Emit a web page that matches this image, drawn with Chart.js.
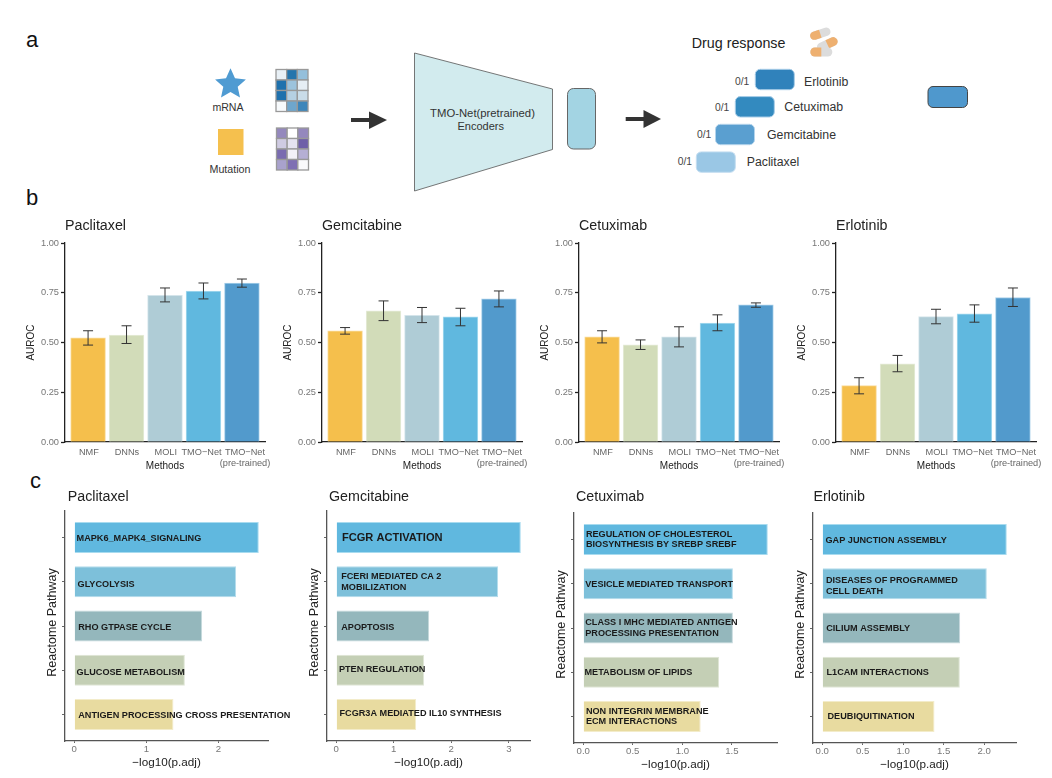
<!DOCTYPE html>
<html>
<head>
<meta charset="utf-8">
<title>TMO-Net drug response</title>
<script src="https://cdn.jsdelivr.net/npm/chart.js@4"></script>
<style>
    html, body { margin: 0; padding: 0; background: #fff; }
    body { position: relative; width: 1052px; height: 778px; overflow: hidden; font-family: "Liberation Sans", Arial, sans-serif; }
    canvas { position: absolute; }
    svg { position: absolute; left: 0; top: 0; }
</style>
</head>
<body>
<svg width="1052" height="778" font-family="Liberation Sans, Arial, sans-serif">
    <g font-size="22" fill="#111">
        <text x="26" y="47">a</text>
        <text x="26" y="205">b</text>
        <text x="30" y="488">c</text>
    </g>

    <polygon points="230.5,68.3 235,78.35 245.9,79.5 237.7,86.85 240,97.6 230.5,92.1 221,97.6 223.3,86.85 215.1,79.5 226,78.35" fill="#4f9bd2"/>
    <text x="228" y="110.5" font-size="10.6" text-anchor="middle" fill="#333">mRNA</text>
    <rect x="218" y="129" width="25.5" height="26" fill="#f5c04e"/>
    <text x="230" y="172.8" font-size="10.7" text-anchor="middle" fill="#333">Mutation</text>
    <g id="heat1"></g>
    <g id="heat2"></g>

    <g fill="#333">
        <rect x="351" y="118" width="19" height="4"/>
        <polygon points="369,111.5 387,120 369,129"/>
        <rect x="625.7" y="117" width="19" height="4"/>
        <polygon points="643.5,110 661,119 643.5,128"/>
    </g>

    <polygon points="414.5,53 552.5,89 552.5,149.5 414.5,191" fill="#d2ebee" stroke="#555" stroke-width="0.8"/>
    <text x="482.5" y="116.7" font-size="11.3" text-anchor="middle" fill="#333">TMO-Net(pretrained)</text>
    <text x="480.7" y="130.2" font-size="11" text-anchor="middle" fill="#333">Encoders</text>
    <rect x="567.5" y="88.5" width="28" height="60.5" rx="6" fill="#a3d4e3" stroke="#666" stroke-width="1"/>

    <text x="691.7" y="47.5" font-size="14.3" fill="#222">Drug response</text>
    <g>
        <g transform="translate(820.3 33.7) rotate(-18)">
            <rect x="-10.5" y="-4.2" width="21" height="8.4" rx="4.2" fill="#dcdcdc"/>
            <path d="M0 -4.2H-6.3a4.2 4.2 0 0 0 0 8.4H0z" fill="#eeb070"/>
        </g>
        <g transform="translate(827.3 44.3) rotate(-25)">
            <rect x="-11" y="-4.4" width="22" height="8.8" rx="4.4" fill="#dcdcdc"/>
            <path d="M0 -4.4H6.6a4.4 4.4 0 0 1 0 8.8H0z" fill="#eeb070"/>
        </g>
        <g transform="translate(821.3 52)">
            <rect x="-11" y="-4.5" width="22" height="9" rx="4.5" fill="#dcdcdc"/>
            <path d="M0 -4.5H-6.5a4.5 4.5 0 0 0 0 9H0z" fill="#eeb070"/>
        </g>
    </g>

    <g stroke-width="1">
        <rect x="755.3" y="69.3" width="39" height="20.4" rx="5" fill="#3082bb" stroke="#a8cde8"/>
        <rect x="735.3" y="96.6" width="39" height="20.4" rx="5" fill="#338abf" stroke="#a8cde8"/>
        <rect x="715.5" y="124.3" width="39" height="20.4" rx="5" fill="#5a9fd0" stroke="#b4d4ec"/>
        <rect x="696.3" y="151.9" width="39" height="20.4" rx="5" fill="#9ac7e5" stroke="#c5def1"/>
        <rect x="928" y="86.5" width="39.5" height="21" rx="5" fill="#4f98cd" stroke="#444"/>
    </g>
    <g font-size="10.3" fill="#444" text-anchor="end">
        <text x="749.3" y="85">0/1</text>
        <text x="729.3" y="110.7">0/1</text>
        <text x="711.3" y="137.7">0/1</text>
        <text x="692" y="165.4">0/1</text>
    </g>
    <g font-size="12.3" fill="#333">
        <text x="804" y="85.6">Erlotinib</text>
        <text x="784.3" y="111.3">Cetuximab</text>
        <text x="767" y="139.3">Gemcitabine</text>
        <text x="746.7" y="166.3">Paclitaxel</text>
    </g>
</svg>

<script>
const methods = ['NMF', 'DNNs', 'MOLI', 'TMO\u2212Net', ['TMO\u2212Net', '(pre-trained)']];
// the two TMO-Net labels sit a bit apart from their bars in the figure
const methodLabelAt = [1.02, 2.01, 3.02, 3.95, 5.08];

const paclitaxelAuroc = [0.523, 0.537, 0.737, 0.759, 0.799];
const paclitaxelLow = [0.487, 0.495, 0.704, 0.719, 0.778];
const paclitaxelHigh = [0.559, 0.584, 0.774, 0.799, 0.819];

const gemcitabineAuroc = [0.559, 0.659, 0.637, 0.629, 0.719];
const gemcitabineLow = [0.542, 0.610, 0.600, 0.584, 0.679];
const gemcitabineHigh = [0.575, 0.709, 0.676, 0.672, 0.759];

const cetuximabAuroc = [0.528, 0.488, 0.528, 0.597, 0.689];
const cetuximabLow = [0.498, 0.465, 0.478, 0.559, 0.677];
const cetuximabHigh = [0.559, 0.513, 0.579, 0.639, 0.699];

const erlotinibAuroc = [0.283, 0.393, 0.630, 0.644, 0.726];
const erlotinibLow = [0.242, 0.353, 0.594, 0.602, 0.681];
const erlotinibHigh = [0.323, 0.435, 0.667, 0.689, 0.774];

const aurocTicks = [0, 0.25, 0.5, 0.75, 1];

const paclitaxelPathways = ['MAPK6_MAPK4_SIGNALING', 'GLYCOLYSIS', 'RHO GTPASE CYCLE', 'GLUCOSE METABOLISM', 'ANTIGEN PROCESSING CROSS PRESENTATION'];
const paclitaxelScores = [2.559, 2.245, 1.774, 1.534, 1.376];
const paclitaxelTicks = [0, 1, 2];

const gemcitabinePathways = ['FCGR ACTIVATION', ['FCERI MEDIATED CA 2', 'MOBILIZATION'], 'APOPTOSIS', 'PTEN REGULATION', 'FCGR3A MEDIATED IL10 SYNTHESIS'];
const gemcitabineScores = [3.208, 2.814, 1.616, 1.529, 1.390];
const gemcitabineTicks = [0, 1, 2, 3];

const cetuximabPathways = [['REGULATION OF CHOLESTEROL', 'BIOSYNTHESIS BY SREBP SREBF'], 'VESICLE MEDIATED TRANSPORT', ['CLASS I MHC MEDIATED ANTIGEN', 'PROCESSING PRESENTATION'], 'METABOLISM OF LIPIDS', ['NON INTEGRIN MEMBRANE', 'ECM INTERACTIONS']];
const cetuximabScores = [1.862, 1.510, 1.510, 1.372, 1.185];
const cetuximabTicks = [0, 0.5, 1, 1.5];

const erlotinibPathways = ['GAP JUNCTION ASSEMBLY', ['DISEASES OF PROGRAMMED', 'CELL DEATH'], 'CILIUM ASSEMBLY', 'L1CAM INTERACTIONS', 'DEUBIQUITINATION'];
const erlotinibScores = [2.280, 2.033, 1.704, 1.700, 1.387];
const erlotinibTicks = [0, 0.5, 1, 1.5, 2];

// small nudges of the labels inside the pathway bars, in px
const paclitaxelNudgeX = [2.3, 3.3, 4, 2.3, 4];
const paclitaxelNudgeY = [1.3, 2.3, 1.3, 2.3, 1.3];
const gemcitabineNudgeX = [5.7, 5, 5, 2.7, 3.3];
const gemcitabineNudgeY = [0.7, 0, 1.7, -0.7, -1];
const cetuximabNudgeX = [2.7, 2, 2, 1.3, 2.7];
const cetuximabNudgeY = [0, 0.3, 0, 0, 0];
const erlotinibNudgeX = [3.3, 3.7, 4, 4.3, 5.3];
const erlotinibNudgeY = [1, 2.3, 0, 0, 0];

const methodColors = ['#f5bf4c', '#d2dcb9', '#afccd6', '#60b8df', '#529acc'];
const methodEdges = ['#f9dc9c', '#e6ecd9', '#d4e4ea', '#a8dbef', '#a8d0ea'];
const pathwayColors = ['#60b8df', '#7dc0da', '#94b7bc', '#c4cfb5', '#e8dba0'];
const pathwayEdges = ['#a8dbef', '#b4dcec', '#c4d8dc', '#dfe6d6', '#f3ecca'];

const FONT = 'Liberation Sans';
const LEFT_PAD = { bars: 45, paths: 20 };
const RIGHT_PAD = { bars: 12, paths: 26 };
const BOTTOM = 35, TOP = 35;

function heatmap(id, x, y, w, h, colors) {
    const g = document.getElementById(id);
    const cw = w / 3, ch = h / 4;
    colors.forEach((c, i) => {
        const r = document.createElementNS('http://www.w3.org/2000/svg', 'rect');
        r.setAttribute('x', x + (i % 3) * cw);
        r.setAttribute('y', y + Math.floor(i / 3) * ch);
        r.setAttribute('width', cw);
        r.setAttribute('height', ch);
        r.setAttribute('fill', c);
        r.setAttribute('stroke', '#999');
        r.setAttribute('stroke-width', '1.3');
        g.appendChild(r);
    });
}
heatmap('heat1', 276, 69.5, 32, 42, ['#e8f0f6', '#2475ad', '#94bfdb', '#1f71ad', '#9cc3dd', '#e6eef5', '#1f71ad', '#b5d0e3', '#c9dce9', '#f7fafc', '#6ea6cc', '#3d86ba']);
heatmap('heat2', 276.5, 128, 32, 42, ['#9488bd', '#ffffff', '#9488bd', '#cfcbe2', '#e5e3f0', '#6e5fa8', '#7a6cb0', '#f3f2f8', '#b5afd4', '#a9a2cd', '#7f70b3', '#fafafc']);

// error bars drawn on the chart's own scales
const errorBars = {
    id: 'errorBars',
    afterDatasetsDraw(chart, args, opts) {
        const ctx = chart.ctx;
        const y = chart.scales.y;
        const bars = chart.getDatasetMeta(0).data;
        ctx.save();
        ctx.strokeStyle = '#333';
        ctx.lineWidth = 1;
        bars.forEach((bar, i) => {
            const top = y.getPixelForValue(opts.high[i]);
            const bottom = y.getPixelForValue(opts.low[i]);
            ctx.beginPath();
            ctx.moveTo(bar.x, top);
            ctx.lineTo(bar.x, bottom);
            ctx.moveTo(bar.x - 5, top);
            ctx.lineTo(bar.x + 5, top);
            ctx.moveTo(bar.x - 5, bottom);
            ctx.lineTo(bar.x + 5, bottom);
            ctx.stroke();
        });
        ctx.restore();
    }
};

// pathway names written over the bars
const barNames = {
    id: 'barNames',
    afterDatasetsDraw(chart, args, opts) {
        const ctx = chart.ctx;
        const zero = chart.scales.x.getPixelForValue(0);
        const bars = chart.getDatasetMeta(0).data;
        ctx.save();
        ctx.fillStyle = '#1a1a1a';
        ctx.textBaseline = 'middle';
        ctx.textAlign = 'left';
        bars.forEach((bar, i) => {
            const lines = [].concat(opts.names[i]);
            const size = opts.names[i] === 'FCGR ACTIVATION' ? 11.1 : 9.15;
            ctx.font = 'bold ' + size + 'px "' + FONT + '"';
            lines.forEach((line, k) => {
                const dy = (k - (lines.length - 1) / 2) * 10.7;
                ctx.fillText(line, zero + opts.dx[i], bar.y + opts.dy[i] + dy);
            });
        });
        ctx.restore();
    }
};

const titleShift = {
    id: 'titleShift',
    afterLayout(chart, args, opts) {
        chart.titleBlock.left += opts.shift;
        chart.titleBlock.right += opts.shift;
    }
};

function addCanvas(left, top, width, height) {
    const c = document.createElement('canvas');
    c.width = width;
    c.height = height;
    c.style.left = left + 'px';
    c.style.top = top + 'px';
    c.style.width = width + 'px';
    c.style.height = height + 'px';
    document.body.appendChild(c);
    return c;
}

function titleOptions(text, bottomGap) {
    const size = 14.25;
    return {
        display: true,
        text: text,
        align: 'start',
        fullSize: false,
        color: '#222',
        font: { family: FONT, size: size, weight: 'normal', lineHeight: 1.2 },
        padding: { top: TOP - size * 1.2 - bottomGap, bottom: bottomGap }
    };
}

function methodChart(title, values, low, high, left, top, right, bottom) {
    const canvas = addCanvas(left - LEFT_PAD.bars, top - TOP, right - left + LEFT_PAD.bars + RIGHT_PAD.bars, bottom - top + TOP + BOTTOM);
    new Chart(canvas, {
        type: 'bar',
        data: {
            datasets: [{
                data: values.map((v, i) => ({ x: i + 1, y: v })),
                backgroundColor: methodColors,
                borderColor: methodEdges,
                borderWidth: 1,
                barThickness: 34.8
            }]
        },
        plugins: [errorBars],
        options: {
            responsive: false,
            animation: false,
            layout: { padding: { left: 0, top: 0, right: RIGHT_PAD.bars, bottom: 0 } },
            plugins: {
                legend: { display: false },
                tooltip: { enabled: false },
                title: titleOptions(title, 8.45),
                errorBars: { low: low, high: high }
            },
            scales: {
                x: {
                    type: 'linear',
                    offset: false,
                    min: 0.4,
                    max: 5.6,
                    afterBuildTicks: s => { s.ticks = methodLabelAt.map(v => ({ value: v })); },
                    afterFit: s => { s.height = BOTTOM; },
                    grid: { display: false, drawTicks: false, offset: false },
                    border: { display: true, color: '#222', width: 1.3 },
                    ticks: {
                        autoSkip: false, maxRotation: 0, padding: 5,
                        color: '#666',
                        font: { family: FONT, size: 9.2, lineHeight: 1.16 },
                        callback: (v, i) => methods[i]
                    },
                    title: {
                        display: true, text: 'Methods', color: '#222',
                        font: { family: FONT, size: 10, lineHeight: 1.2 },
                        padding: { top: 0, bottom: 5 }
                    }
                },
                y: {
                    min: 0,
                    max: 1,
                    afterBuildTicks: s => { s.ticks = aurocTicks.map(v => ({ value: v })); },
                    afterFit: s => { s.width = LEFT_PAD.bars; },
                    grid: { display: true, drawOnChartArea: false, drawTicks: true, tickLength: 4, tickColor: '#222', tickWidth: 1.3 },
                    border: { display: true, color: '#222', width: 1.3 },
                    ticks: {
                        padding: 2, color: '#777',
                        font: { family: FONT, size: 9.25 },
                        callback: v => v.toFixed(2)
                    },
                    title: {
                        display: true, text: 'AUROC', color: '#222',
                        font: { family: FONT, size: 10, lineHeight: 1.2 },
                        padding: { top: 5, bottom: 0 }
                    }
                }
            }
        }
    });
}

function pathwayChart(title, names, scores, ticks, nudgeX, nudgeY, left, top, right, bottom, min, max, shift, decimals) {
    const canvas = addCanvas(left - LEFT_PAD.paths, top - TOP, right - left + LEFT_PAD.paths + RIGHT_PAD.paths, bottom - top + TOP + BOTTOM);
    new Chart(canvas, {
        type: 'bar',
        data: {
            datasets: [{
                data: scores.map((v, i) => ({ x: v, y: i + 1 })),
                backgroundColor: pathwayColors,
                borderColor: pathwayEdges,
                borderWidth: 1,
                categoryPercentage: 0.7,
                barPercentage: 1
            }]
        },
        plugins: [barNames, titleShift],
        options: {
            indexAxis: 'y',
            responsive: false,
            animation: false,
            layout: { padding: { left: 0, top: 0, right: RIGHT_PAD.paths, bottom: 0 } },
            plugins: {
                legend: { display: false },
                tooltip: { enabled: false },
                title: titleOptions(title, top - 496.7 - 8.55),
                barNames: { names: names, dx: nudgeX, dy: nudgeY },
                titleShift: { shift: shift }
            },
            scales: {
                x: {
                    type: 'linear',
                    min: min,
                    max: max,
                    afterBuildTicks: s => { s.ticks = ticks.map(v => ({ value: v })); },
                    afterFit: s => { s.height = BOTTOM; },
                    grid: { display: true, drawOnChartArea: false, drawTicks: true, tickLength: 2, tickColor: '#666', tickWidth: 1 },
                    border: { display: true, color: '#555', width: 1.3 },
                    ticks: {
                        padding: 1, color: '#777',
                        font: { family: FONT, size: 9.6 },
                        callback: v => v.toFixed(decimals)
                    },
                    title: {
                        display: true, text: '\u2212log10(p.adj)', color: '#222',
                        font: { family: FONT, size: 11.7, lineHeight: 1.2 },
                        padding: { top: 0, bottom: 6 }
                    }
                },
                y: {
                    type: 'linear',
                    offset: false,
                    reverse: true,
                    min: 0.4,
                    max: 5.6,
                    afterBuildTicks: s => { s.ticks = scores.map((v, i) => ({ value: i + 1 })); },
                    afterFit: s => { s.width = LEFT_PAD.paths; },
                    grid: { display: true, offset: false, drawOnChartArea: false, drawTicks: true, tickLength: 3, tickColor: '#666', tickWidth: 1 },
                    border: { display: true, color: '#555', width: 1.3 },
                    ticks: { callback: () => '', padding: 0, font: { size: 1 } },
                    title: {
                        display: true, text: '  Reactome Pathway', color: '#222',
                        font: { family: FONT, size: 12.5, lineHeight: 1.2 },
                        padding: { top: 0, bottom: 0 }
                    }
                }
            }
        }
    });
}

methodChart('Paclitaxel', paclitaxelAuroc, paclitaxelLow, paclitaxelHigh, 65, 243, 265, 442);
methodChart('Gemcitabine', gemcitabineAuroc, gemcitabineLow, gemcitabineHigh, 322, 243, 522, 442);
methodChart('Cetuximab', cetuximabAuroc, cetuximabLow, cetuximabHigh, 579, 243, 779, 442);
methodChart('Erlotinib', erlotinibAuroc, erlotinibLow, erlotinibHigh, 836, 243, 1036, 442);

pathwayChart('Paclitaxel', paclitaxelPathways, paclitaxelScores, paclitaxelTicks, paclitaxelNudgeX, paclitaxelNudgeY, 65, 511, 268, 741, -0.128, 2.687, 2.7, 0);
pathwayChart('Gemcitabine', gemcitabinePathways, gemcitabineScores, gemcitabineTicks, gemcitabineNudgeX, gemcitabineNudgeY, 327, 511, 530, 741, -0.16, 3.368, 2, 0);
pathwayChart('Cetuximab', cetuximabPathways, cetuximabScores, cetuximabTicks, cetuximabNudgeX, cetuximabNudgeY, 574, 513, 777, 743, -0.093, 1.955, 2, 1);
pathwayChart('Erlotinib', erlotinibPathways, erlotinibScores, erlotinibTicks, erlotinibNudgeX, erlotinibNudgeY, 813, 513, 1016, 743, -0.114, 2.394, 0.4, 1);
</script>
</body>
</html>
